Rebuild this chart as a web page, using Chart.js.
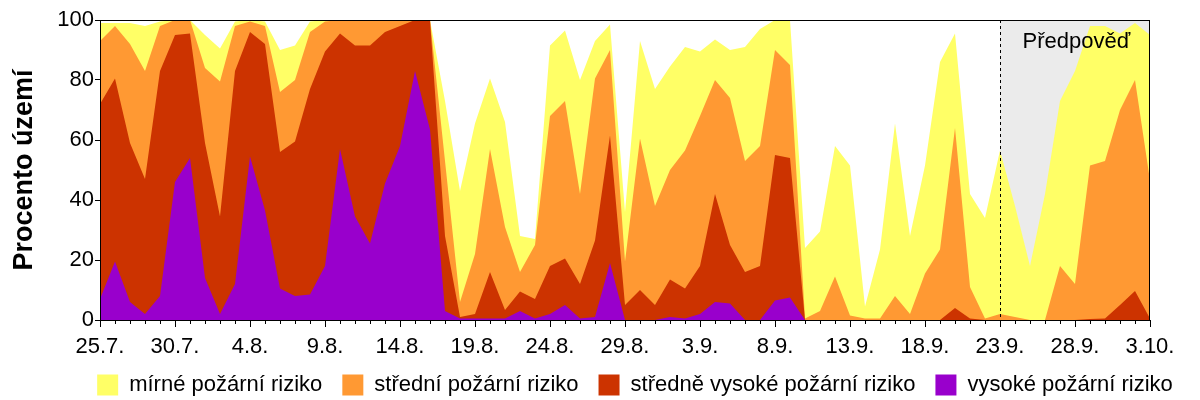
<!DOCTYPE html>
<html>
<head>
<meta charset="utf-8">
<script src="https://cdn.jsdelivr.net/npm/chart.js@4.4.0/dist/chart.umd.min.js"></script>
<style>
  html, body { margin: 0; padding: 0; background: #fff; }
  #wrap { width: 1200px; height: 400px; }
</style>
</head>
<body>
<div id="wrap"><canvas id="chart" width="1200" height="400"></canvas></div>
<script>
// days from 25.7. to 3.10.
const dates = [
    '25.7.', '26.7.', '27.7.', '28.7.', '29.7.', '30.7.', '31.7.',
    '1.8.', '2.8.', '3.8.', '4.8.', '5.8.', '6.8.', '7.8.', '8.8.', '9.8.', '10.8.',
    '11.8.', '12.8.', '13.8.', '14.8.', '15.8.', '16.8.', '17.8.', '18.8.', '19.8.', '20.8.',
    '21.8.', '22.8.', '23.8.', '24.8.', '25.8.', '26.8.', '27.8.', '28.8.', '29.8.', '30.8.', '31.8.',
    '1.9.', '2.9.', '3.9.', '4.9.', '5.9.', '6.9.', '7.9.', '8.9.', '9.9.', '10.9.',
    '11.9.', '12.9.', '13.9.', '14.9.', '15.9.', '16.9.', '17.9.', '18.9.', '19.9.', '20.9.',
    '21.9.', '22.9.', '23.9.', '24.9.', '25.9.', '26.9.', '27.9.', '28.9.', '29.9.', '30.9.',
    '1.10.', '2.10.', '3.10.'
];

// cumulative levels (top edge of each band, % of territory)
const mirne = [
    99, 99, 99, 98, 99.5, 100, 100, 95, 90.5, 99.5, 100, 99.5, 90, 91.5, 99.5, 100, 100,
    100, 100, 100, 100, 100, 100, 73, 43, 65.5, 80.5, 66, 28, 27, 91.5, 96.5, 80, 93, 98.5, 36, 93, 77,
    84.5, 91, 89.5, 93.5, 90, 91, 97, 100, 100, 24,
    29.5, 58, 51.5, 4.5, 23.5, 65.5, 28, 51.5, 86, 95.5,
    42, 34, 56.5, 38, 18, 42, 73, 83, 98, 98,
    95.5, 99, 95
];
const stredni = [
    93, 98, 92, 83, 98, 100, 100, 84, 79.5, 98, 99.5, 98, 76, 80, 96, 99.5, 100,
    100, 100, 100, 100, 100, 100, 53, 6, 22, 57, 31, 16, 25, 68, 73, 42, 80.5, 90, 19.5, 60.5, 38,
    50, 56.5, 68, 80, 74, 53, 58, 90, 85, 0.5,
    3, 14.5, 1.5, 0.5, 0.5, 8, 2, 15.5, 23.5, 64,
    11, 0.5, 2, 1, 0, 0, 18, 12, 51.5, 53,
    70, 80, 46.5
];
const stredneVysoke = [
    72, 80.5, 59, 47, 83, 95, 95.5, 59, 34.5, 83, 96, 92, 56, 59.5, 77, 89.5, 95.5,
    91.5, 91.5, 96, 98, 100, 100, 28, 1, 2, 16, 3.3, 9.5, 7, 18, 20.5, 12, 26.5, 61.5, 5, 10, 5,
    13.5, 10.5, 18, 42, 25, 16, 18, 55, 54, 0,
    0, 0, 0, 0, 0, 0, 0, 0, 0, 4,
    0.5, 0, 0, 0, 0, 0, 0, 0, 0.3, 0.5,
    5, 9.7, 0.5
];
const vysoke = [
    7, 19.5, 6, 2, 8, 46, 54, 14, 2, 12, 54.5, 36.5, 10.5, 8, 8.5, 18, 57,
    34.5, 25.5, 45.5, 58, 83, 63.5, 3, 0.5, 0.5, 0.5, 0.5, 3, 0.5, 2, 5, 0.5, 1, 19, 0, 0, 0,
    1, 0.5, 2, 6, 5.5, 0, 0, 6.5, 7.5, 0,
    0, 0, 0, 0, 0, 0, 0, 0, 0, 0,
    0, 0, 0, 0, 0, 0, 0, 0, 0, 0,
    0, 0, 0
];

const forecastStart = 60; // 23.9.

Chart.defaults.font.family = '"Liberation Sans", Arial, sans-serif';
Chart.defaults.color = '#000';

const decorations = {
    id: 'decorations',
    afterLayout(chart) {
        // move legend to match the original position
        const lg = chart.legend;
        lg.left += 60;
        lg.right += 60;
        lg.top -= 11;
        lg.bottom -= 11;
    },
    beforeDatasetsDraw(chart) {
        const { ctx, chartArea: a, scales: { x } } = chart;
        const x0 = x.getPixelForValue(forecastStart);
        ctx.save();
        ctx.fillStyle = '#ebebeb';
        ctx.fillRect(x0, a.top, a.right - x0, a.bottom - a.top);
        ctx.restore();
    },
    afterDatasetsDraw(chart) {
        const { ctx, chartArea: a, scales: { x } } = chart;
        const x0 = Math.round(x.getPixelForValue(forecastStart)) + 0.5;
        ctx.save();
        ctx.strokeStyle = '#000';
        ctx.lineWidth = 1;
        ctx.setLineDash([3, 3]);
        ctx.beginPath();
        ctx.moveTo(x0, a.top);
        ctx.lineTo(x0, a.bottom);
        ctx.stroke();
        ctx.setLineDash([]);

        ctx.fillStyle = '#000';
        ctx.font = '22px "Liberation Sans", Arial, sans-serif';
        ctx.textBaseline = 'alphabetic';
        ctx.fillText('Předpověď', x0 + 22, a.top + 28);

        // frame
        ctx.strokeRect(Math.round(a.left) + 0.5, Math.round(a.top) + 0.5,
            Math.round(a.right - a.left) - 1, Math.round(a.bottom - a.top));

        // x tick marks: long every 5 days
        for (let i = 0; i < dates.length; i++) {
            const px = Math.round(x.getPixelForValue(i)) + 0.5;
            const len = i % 5 === 0 ? 7 : 4;
            ctx.beginPath();
            ctx.moveTo(px, a.bottom);
            ctx.lineTo(px, a.bottom + len);
            ctx.stroke();
        }
        ctx.restore();
    }
};

new Chart(document.getElementById('chart'), {
    type: 'line',
    data: {
        labels: dates,
        datasets: [
            { label: 'mírné požární riziko', data: mirne, backgroundColor: '#ffff66', order: 4 },
            { label: 'střední požární riziko', data: stredni, backgroundColor: '#ff9933', order: 3 },
            { label: 'středně vysoké požární riziko', data: stredneVysoke, backgroundColor: '#cc3300', order: 2 },
            { label: 'vysoké požární riziko', data: vysoke, backgroundColor: '#9900cc', order: 1 }
        ].map(ds => Object.assign(ds, {
            fill: 'origin',
            borderColor: 'rgba(0,0,0,0)',
            borderWidth: 0,
            pointRadius: 0,
            tension: 0
        }))
    },
    options: {
        responsive: false,
        animation: false,
        events: [],
        layout: { padding: { left: 0, right: 50, top: 20, bottom: -17 } },
        scales: {
            x: {
                type: 'category',
                grid: { display: false, drawTicks: false },
                border: { display: false },
                ticks: {
                    autoSkip: false,
                    maxRotation: 0,
                    padding: 14,
                    font: { size: 22 },
                    callback: function (value, index) {
                        return index % 5 === 0 ? this.getLabelForValue(value) : '';
                    }
                },
                afterFit: s => { s.height = 45; }
            },
            y: {
                min: 0,
                max: 100,
                ticks: { stepSize: 20, padding: 1, font: { size: 22 } },
                grid: { drawOnChartArea: false, tickLength: 5, color: '#000' },
                border: { display: false },
                title: {
                    display: true,
                    text: 'Procento území',
                    font: { size: 27, weight: 'bold' },
                    padding: { top: 8, bottom: 0 }
                },
                afterFit: s => { s.width = 100; }
            }
        },
        plugins: {
            tooltip: { enabled: false },
            legend: {
                position: 'bottom',
                labels: {
                    boxWidth: 21,
                    boxHeight: 21,
                    padding: 20,
                    font: { size: 22 },
                    sort: (a, b) => a.datasetIndex - b.datasetIndex
                }
            }
        }
    },
    plugins: [decorations]
});
</script>
</body>
</html>
